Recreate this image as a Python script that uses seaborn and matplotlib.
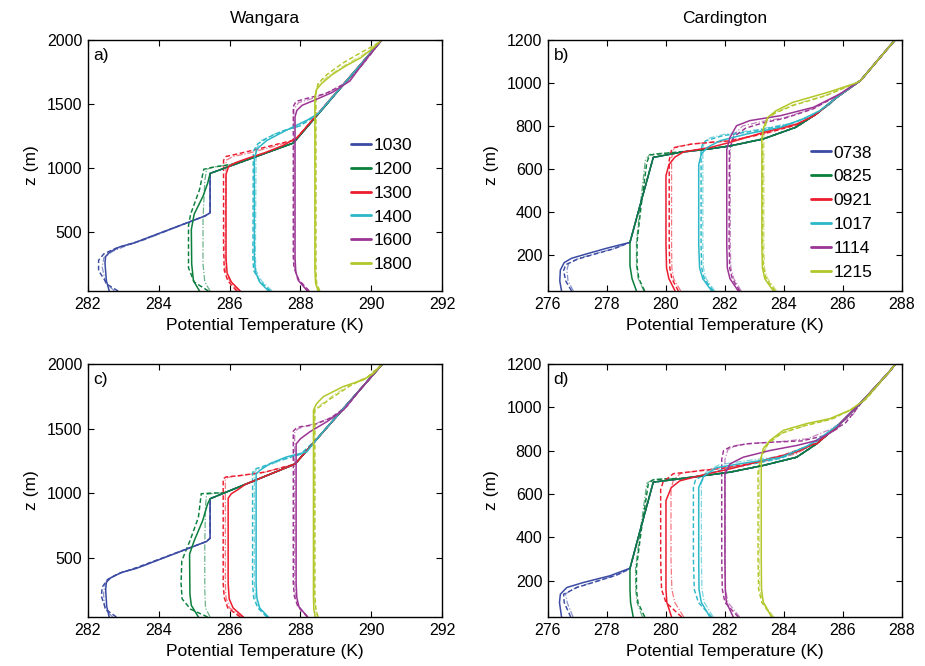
import matplotlib
matplotlib.use("Agg")
import matplotlib.pyplot as plt
import seaborn as sns

# ---------------- data ----------------
a_times = ["1030", "1200", "1300", "1400", "1600", "1800"]
b_times = ["0738", "0825", "0921", "1017", "1114", "1215"]
colors = ["#3B4BA3", "#0B7F3C", "#EC1C2E", "#2CB8C8", "#9B3594", "#B2C72A"]

# Panel a (Wangara)
a_common_T = [285.45, 287.8, 290.3]
a_common_Z = [958, 1195, 2000]
a_solid_T = [
    [282.6, 282.52, 282.48, 282.5, 282.62, 282.9, 283.3, 285.3, 285.45, 285.45],
    [285.15, 284.98, 284.93, 284.92, 285.0, 285.25, 285.38, 285.45],
    [286.3, 286.05, 285.93, 285.9, 285.9, 285.97, 286.15, 286.5, 287.0, 287.5, 287.9],
    [287.1, 286.85, 286.73, 286.7, 286.7, 286.78, 287.05, 287.6, 288.2, 288.5],
    [288.2, 287.95, 287.87, 287.85, 287.85, 287.9, 288.05, 288.4, 288.9, 289.4, 289.8],
    [288.5, 288.43, 288.41, 288.41, 288.45, 288.6, 288.9, 289.3, 289.7, 290.05],
]
a_solid_Z = [
    [40, 120, 260, 310, 345, 385, 415, 625, 650, 958],
    [40, 120, 250, 520, 640, 780, 880, 958],
    [40, 110, 180, 300, 950, 1010, 1040, 1075, 1120, 1175, 1235],
    [40, 110, 190, 300, 1080, 1150, 1215, 1295, 1375, 1425],
    [40, 120, 190, 300, 1400, 1450, 1490, 1530, 1590, 1680, 1830],
    [40, 100, 200, 1550, 1610, 1660, 1730, 1800, 1860, 1935],
]
a_dash_T = [
    [282.85, 282.55, 282.3, 282.3, 282.45, 282.8, 283.4, 285.3, 285.45, 285.45],
    [285.4, 285.0, 284.84, 284.84, 284.9, 285.15, 285.27, 285.5, 286.2],
    [286.2, 285.95, 285.85, 285.83, 285.83, 285.9, 286.3, 286.9, 287.4, 287.85],
    [287.15, 286.85, 286.68, 286.66, 286.67, 286.8, 287.1, 287.5, 288.0, 288.5],
    [288.25, 287.95, 287.82, 287.8, 287.8, 287.88, 288.2, 288.7, 289.2, 289.7],
    [288.55, 288.46, 288.44, 288.44, 288.5, 288.75, 289.2, 289.7, 290.1],
]
a_dash_Z = [
    [40, 90, 200, 280, 330, 375, 425, 625, 650, 958],
    [40, 110, 220, 550, 640, 830, 990, 1005, 1035],
    [40, 120, 200, 400, 1060, 1090, 1115, 1155, 1190, 1220],
    [40, 120, 200, 300, 1130, 1190, 1240, 1290, 1330, 1420],
    [40, 130, 220, 300, 1480, 1520, 1545, 1580, 1650, 1790],
    [40, 100, 200, 1580, 1660, 1730, 1820, 1900, 1960],
]
a_dot_T = [
    [282.75, 282.5, 282.4, 282.45, 282.7, 283.1, 283.6, 285.3, 285.45, 285.45],
    [285.45, 285.3, 285.25, 285.25, 285.3, 285.35, 285.6, 286.2],
    [286.25, 286.0, 285.88, 285.87, 285.9, 286.1, 286.6, 287.2, 287.85],
    [287.2, 286.9, 286.75, 286.73, 286.75, 286.9, 287.3, 287.9, 288.5],
    [288.2, 287.92, 287.84, 287.82, 287.82, 287.95, 288.3, 288.8, 289.3, 289.8],
    [288.52, 288.45, 288.43, 288.43, 288.5, 288.8, 289.3, 289.8],
]
a_dot_Z = [
    [40, 100, 230, 300, 350, 395, 440, 625, 650, 958],
    [40, 110, 250, 600, 900, 990, 1010, 1035],
    [40, 120, 200, 400, 1060, 1090, 1120, 1165, 1220],
    [40, 120, 200, 300, 1150, 1215, 1270, 1320, 1420],
    [40, 130, 220, 300, 1460, 1510, 1540, 1590, 1670, 1820],
    [40, 100, 200, 1580, 1650, 1720, 1810, 1890],
]

# Panel c (Wangara, second set)
c_common_T = [285.45, 287.85, 290.32]
c_common_Z = [956, 1225, 2000]
c_solid_T = [
    [282.6, 282.53, 282.5, 282.52, 282.65, 282.95, 283.35, 285.35, 285.45, 285.45],
    [285.12, 284.92, 284.88, 284.87, 285.0, 285.24, 285.38, 285.45],
    [286.39, 286.1, 285.99, 285.96, 285.96, 286.05, 286.2, 286.45],
    [287.09, 286.85, 286.77, 286.75, 286.75, 286.86, 287.14, 287.61, 288.18, 288.5],
    [288.2, 287.96, 287.9, 287.88, 287.88, 288.0, 288.27, 288.75, 289.22, 289.7],
    [288.42, 288.38, 288.37, 288.37, 288.45, 288.65, 289.21, 289.78, 290.06],
]
c_solid_Z = [
    [40, 120, 250, 310, 345, 385, 415, 625, 650, 956],
    [40, 130, 216, 527, 630, 786, 916, 956],
    [40, 110, 180, 300, 960, 995, 1020, 1068],
    [40, 110, 190, 300, 1150, 1176, 1228, 1280, 1319, 1430],
    [40, 120, 190, 300, 1380, 1420, 1475, 1553, 1644, 1805],
    [40, 100, 200, 1640, 1690, 1747, 1825, 1877, 1925],
]
c_dash_T = [
    [282.8, 282.5, 282.38, 282.4, 282.55, 282.85, 283.4, 285.35, 285.45, 285.45],
    [285.38, 284.9, 284.66, 284.63, 284.65, 284.88, 285.12, 285.2, 285.5, 285.85],
    [286.3, 285.95, 285.85, 285.82, 285.82, 285.9, 286.3, 287.0, 287.85],
    [287.05, 286.8, 286.68, 286.65, 286.65, 286.75, 286.9, 287.42, 288.0, 288.5],
    [288.2, 287.93, 287.83, 287.8, 287.8, 287.88, 288.0, 288.37, 288.84, 289.31, 289.7],
    [288.5, 288.44, 288.41, 288.41, 288.4, 288.5, 288.85, 289.4, 289.9],
]
c_dash_Z = [
    [40, 100, 200, 270, 330, 375, 425, 625, 650, 956],
    [40, 100, 180, 300, 475, 630, 812, 995, 1000, 1001],
    [40, 110, 190, 300, 1111, 1125, 1136, 1162, 1225],
    [40, 110, 190, 300, 1160, 1189, 1202, 1254, 1300, 1430],
    [40, 120, 200, 300, 1480, 1501, 1514, 1527, 1579, 1670, 1805],
    [40, 100, 200, 1620, 1650, 1660, 1730, 1830, 1900],
]
c_dot_T = [
    [282.7, 282.48, 282.44, 282.48, 282.62, 282.95, 283.5, 285.35, 285.45, 285.45],
    [285.45, 285.32, 285.3, 285.3, 285.32, 285.35, 285.6, 285.85],
    [286.35, 286.0, 285.9, 285.88, 285.88, 285.95, 286.35, 287.0, 287.85],
    [287.1, 286.85, 286.73, 286.7, 286.7, 286.8, 287.0, 287.5, 288.1, 288.5],
    [288.22, 287.95, 287.86, 287.84, 287.84, 287.92, 288.1, 288.5, 289.0, 289.7],
    [288.48, 288.42, 288.4, 288.4, 288.42, 288.55, 288.9, 289.4, 289.9],
]
c_dot_Z = [
    [40, 100, 220, 290, 340, 385, 430, 625, 650, 956],
    [40, 110, 250, 600, 900, 990, 1000, 1001],
    [40, 110, 190, 300, 1105, 1122, 1136, 1162, 1225],
    [40, 110, 190, 300, 1165, 1185, 1205, 1255, 1310, 1430],
    [40, 120, 200, 300, 1470, 1495, 1515, 1545, 1600, 1805],
    [40, 100, 200, 1620, 1650, 1680, 1750, 1840, 1900],
]

# Panel b (Cardington)
b_common_T = [279.57, 280.5, 281.5, 282.2, 283.3, 284.4, 285.1, 285.8, 286.6, 287.57, 287.77]
b_common_Z = [654, 678, 694, 708, 740, 794, 856, 934, 1012, 1169, 1200]
b_solid_T = [
    [276.46, 276.4, 276.42, 276.55, 276.8, 277.3, 278.0, 278.78, 279.1, 279.57],
    [279.0, 278.85, 278.78, 278.78, 279.1, 279.57],
    [280.31, 280.1, 280.02, 280.0, 280.0, 280.1, 280.3, 280.6, 281.5, 282.17, 283.3, 284.43, 285.0],
    [281.55, 281.25, 281.14, 281.11, 281.11, 281.2, 281.4, 281.84, 282.75, 283.9, 284.6, 285.2],
    [282.45, 282.17, 282.08, 282.06, 282.06, 282.17, 282.39, 282.84, 283.88, 285.0, 285.9],
    [283.64, 283.35, 283.27, 283.25, 283.25, 283.3, 283.45, 283.73, 284.3, 285.5, 286.45],
]
b_solid_Z = [
    [33, 80, 130, 165, 185, 205, 232, 259, 420, 654],
    [33, 90, 150, 259, 420, 654],
    [33, 90, 140, 250, 570, 620, 655, 680, 700, 724, 770, 809, 846],
    [33, 90, 140, 250, 620, 670, 700, 732, 763, 795, 830, 870],
    [33, 90, 140, 250, 690, 747, 801, 825, 848, 887, 949],
    [33, 90, 140, 250, 740, 790, 840, 871, 910, 957, 1000],
]
b_dash_T = [
    [276.8, 276.6, 276.53, 276.6, 276.98, 277.6, 278.2, 278.78, 279.1, 279.57],
    [279.28, 279.08, 279.02, 279.02, 279.15, 279.35, 279.45, 279.9, 280.5],
    [280.42, 280.2, 280.13, 280.11, 280.11, 280.18, 280.29, 280.86, 282.17, 283.3, 284.43, 285.0],
    [281.6, 281.3, 281.21, 281.19, 281.19, 281.25, 281.36, 281.93, 283.06, 284.2, 285.0, 285.5],
    [282.5, 282.25, 282.16, 282.14, 282.15, 282.3, 282.7, 283.3, 284.0, 285.0, 285.9],
    [283.7, 283.4, 283.3, 283.28, 283.28, 283.4, 283.7, 284.3, 285.4, 286.45],
]
b_dash_Z = [
    [33, 80, 127, 155, 180, 205, 228, 259, 420, 654],
    [33, 90, 150, 260, 420, 630, 665, 672, 680],
    [33, 90, 140, 250, 640, 685, 700, 716, 731, 763, 805, 846],
    [33, 90, 140, 250, 690, 720, 732, 755, 778, 809, 850, 895],
    [33, 90, 140, 250, 690, 750, 790, 815, 835, 880, 949],
    [33, 90, 140, 250, 760, 830, 860, 895, 940, 1000],
]
b_dot_T = [
    [276.86, 276.68, 276.64, 276.7, 277.05, 277.7, 278.3, 278.78, 279.1, 279.57],
    [279.25, 279.06, 279.0, 279.0, 279.12, 279.3, 279.45, 279.9, 280.5],
    [280.5, 280.26, 280.2, 280.19, 280.19, 280.25, 280.4, 281.0, 282.17, 283.3, 284.43, 285.0],
    [281.65, 281.36, 281.27, 281.25, 281.25, 281.32, 281.5, 282.0, 283.1, 284.2, 285.0, 285.5],
    [282.55, 282.3, 282.2, 282.18, 282.18, 282.3, 282.6, 283.2, 284.0, 285.0, 285.9],
    [283.75, 283.45, 283.34, 283.32, 283.32, 283.45, 283.75, 284.3, 285.4, 286.45],
]
b_dot_Z = [
    [33, 80, 130, 160, 185, 210, 232, 259, 420, 654],
    [33, 90, 150, 260, 420, 640, 668, 674, 680],
    [33, 90, 140, 250, 650, 690, 705, 718, 733, 765, 806, 846],
    [33, 90, 140, 250, 700, 728, 745, 762, 783, 812, 852, 895],
    [33, 90, 140, 250, 700, 760, 800, 820, 838, 882, 949],
    [33, 90, 140, 250, 770, 835, 865, 898, 942, 1000],
]

# Panel d (Cardington, second set)
d_common_T = [279.57, 280.47, 282.17, 283.3, 284.43, 285.11, 285.9, 286.69, 287.57, 287.78]
d_common_Z = [655, 670, 701, 732, 770, 832, 925, 1033, 1164, 1200]
d_solid_T = [
    [276.46, 276.39, 276.42, 276.64, 277.2, 278.1, 278.78, 279.1, 279.57],
    [278.89, 278.8, 278.78, 278.78, 279.1, 279.57],
    [280.19, 280.03, 280.0, 280.0, 280.0, 280.18, 280.47, 281.3, 282.17, 283.3, 284.43, 285.0],
    [281.49, 281.2, 281.12, 281.11, 281.11, 281.28, 281.72, 282.75, 283.88, 284.79, 285.24],
    [282.28, 282.05, 282.01, 282.0, 282.0, 282.17, 282.62, 283.53, 284.43, 285.11, 285.79],
    [283.58, 283.3, 283.24, 283.23, 283.23, 283.3, 283.53, 283.98, 284.77, 285.56, 286.24, 286.69],
]
d_solid_Z = [
    [33, 100, 138, 169, 192, 223, 258, 420, 655],
    [33, 100, 160, 258, 420, 655],
    [33, 100, 160, 300, 570, 630, 661, 690, 716, 755, 794, 830],
    [33, 100, 160, 300, 630, 683, 722, 745, 768, 822, 860],
    [33, 100, 160, 300, 694, 739, 770, 801, 824, 847, 900],
    [33, 100, 160, 300, 771, 810, 848, 894, 925, 948, 987, 1030],
]
d_dash_T = [
    [276.77, 276.55, 276.53, 276.98, 277.6, 278.3, 278.78, 279.1, 279.57],
    [279.28, 279.05, 279.0, 279.0, 279.15, 279.4, 279.55, 280.0, 280.5],
    [280.53, 280.0, 279.85, 279.82, 279.82, 279.9, 280.25, 281.0, 282.0, 283.0, 284.0, 285.0],
    [281.55, 281.1, 280.96, 280.93, 280.93, 281.0, 281.3, 281.9, 282.8, 283.9, 284.8, 285.3],
    [282.45, 282.0, 281.91, 281.89, 281.89, 281.95, 282.17, 282.75, 283.7, 284.6, 285.4, 286.1],
    [283.6, 283.25, 283.14, 283.12, 283.12, 283.2, 283.45, 283.9, 284.7, 285.6, 286.3, 286.8],
]
d_dash_Z = [
    [33, 100, 138, 169, 195, 225, 255, 420, 655],
    [33, 100, 160, 260, 420, 647, 665, 670, 672],
    [33, 100, 160, 300, 620, 655, 694, 705, 720, 745, 780, 830],
    [33, 100, 160, 300, 630, 665, 690, 712, 735, 765, 815, 860],
    [33, 100, 160, 300, 760, 800, 817, 832, 840, 845, 870, 930],
    [33, 100, 160, 300, 700, 760, 830, 880, 915, 945, 990, 1040],
]
d_dot_T = [
    [276.85, 276.65, 276.6, 277.0, 277.7, 278.4, 278.78, 279.1, 279.57],
    [279.2, 279.02, 278.97, 278.97, 279.12, 279.35, 279.55, 280.0, 280.5],
    [280.6, 280.3, 280.2, 280.17, 280.17, 280.25, 280.5, 281.2, 282.2, 283.3, 284.4, 285.0],
    [281.6, 281.3, 281.22, 281.2, 281.2, 281.35, 281.8, 282.8, 283.9, 284.8, 285.3],
    [282.5, 282.1, 282.02, 282.0, 282.0, 282.1, 282.4, 283.0, 283.9, 284.8, 285.6, 286.3],
    [283.65, 283.3, 283.18, 283.16, 283.16, 283.25, 283.5, 284.0, 284.8, 285.7, 286.4, 286.8],
]
d_dot_Z = [
    [33, 100, 140, 172, 200, 230, 256, 420, 655],
    [33, 100, 160, 260, 420, 650, 667, 671, 672],
    [33, 100, 160, 300, 620, 665, 695, 710, 725, 750, 785, 830],
    [33, 100, 160, 300, 650, 700, 735, 755, 775, 820, 860],
    [33, 100, 160, 300, 760, 805, 825, 835, 842, 855, 900, 960],
    [33, 100, 160, 300, 720, 780, 840, 885, 918, 950, 1000, 1040],
]

# ---------------- style ----------------
sns.set_style("ticks")
plt.rcParams.update({
    "font.family": ["Liberation Sans", "DejaVu Sans"],
    "xtick.direction": "in", "ytick.direction": "in",
    "xtick.top": True, "ytick.right": True,
    "xtick.major.size": 4, "ytick.major.size": 4,
    "xtick.major.width": 0.8, "ytick.major.width": 0.8,
    "axes.linewidth": 1.0, "axes.edgecolor": "black",
    "xtick.color": "black", "ytick.color": "black",
    "text.color": "black", "axes.labelcolor": "black",
})

fig = plt.figure(figsize=(9.25, 6.66), dpi=100)


def extend(T, Z, cT, cZ):
    T = list(T)
    Z = list(Z)
    for t, z in zip(cT, cZ):
        if t > T[-1] + 1e-6 and z > Z[-1] + 1e-6:
            T.append(t)
            Z.append(z)
    return T, Z


panels = [
    dict(rect=[0.0951, 0.5631, 0.3827, 0.3769], tag="a)", title="Wangara", times=a_times,
         solid=(a_solid_T, a_solid_Z), dash=(a_dash_T, a_dash_Z), dot=(a_dot_T, a_dot_Z),
         common=(a_common_T, a_common_Z), xlim=(282, 292), xt=[282, 284, 286, 288, 290, 292],
         ylim=(40, 2000), yt=[500, 1000, 1500, 2000], legend=True, anchor=(0.742, 0.61)),
    dict(rect=[0.5924, 0.5631, 0.3827, 0.3769], tag="b)", title="Cardington", times=b_times,
         solid=(b_solid_T, b_solid_Z), dash=(b_dash_T, b_dash_Z), dot=(b_dot_T, b_dot_Z),
         common=(b_common_T, b_common_Z), xlim=(276, 288), xt=[276, 278, 280, 282, 284, 286, 288],
         ylim=(33, 1200), yt=[200, 400, 600, 800, 1000, 1200], legend=True, anchor=(0.742, 0.58)),
    dict(rect=[0.0951, 0.0736, 0.3827, 0.3799], tag="c)", title=None, times=a_times,
         solid=(c_solid_T, c_solid_Z), dash=(c_dash_T, c_dash_Z), dot=(c_dot_T, c_dot_Z),
         common=(c_common_T, c_common_Z), xlim=(282, 292), xt=[282, 284, 286, 288, 290, 292],
         ylim=(40, 2000), yt=[500, 1000, 1500, 2000], legend=False),
    dict(rect=[0.5924, 0.0736, 0.3827, 0.3799], tag="d)", title=None, times=b_times,
         solid=(d_solid_T, d_solid_Z), dash=(d_dash_T, d_dash_Z), dot=(d_dot_T, d_dot_Z),
         common=(d_common_T, d_common_Z), xlim=(276, 288), xt=[276, 278, 280, 282, 284, 286, 288],
         ylim=(33, 1200), yt=[200, 400, 600, 800, 1000, 1200], legend=False),
]

styles = [
    ("dot", dict(linewidth=0.9, alpha=0.6, linestyle=(0, (5, 1.5, 1, 1.5)))),
    ("dash", dict(linewidth=1.05, alpha=1.0, linestyle=(0, (3.2, 1.8)))),
    ("solid", dict(linewidth=1.1, alpha=1.0, linestyle="-")),
]

for p in panels:
    ax = fig.add_axes(p["rect"])
    cT, cZ = p["common"]
    handles = []
    for key, kw in styles:
        TT, ZZ = p[key]
        for i in range(6):
            T, Z = extend(TT[i], ZZ[i], cT, cZ)
            sns.lineplot(x=T, y=Z, sort=False, estimator=None, color=colors[i],
                         ax=ax, legend=False, **kw)
            if key == "solid":
                handles.append(ax.lines[-1])
    ax.set_xlim(*p["xlim"])
    ax.set_ylim(*p["ylim"])
    ax.set_xticks(p["xt"])
    ax.set_yticks(p["yt"])
    ax.tick_params(labelsize=11.5, pad=4)
    ax.set_xlabel("Potential Temperature (K)", fontsize=12.5, labelpad=5)
    ax.set_ylabel("z (m)", fontsize=12.5, labelpad=6)
    ax.text(0.016, 0.94, p["tag"], transform=ax.transAxes, fontsize=12.5,
            ha="left", va="center")
    if p["title"]:
        ax.set_title(p["title"], fontsize=12.5, pad=12)
    if p["legend"]:
        leg = ax.legend(handles, p["times"], loc="upper left", bbox_to_anchor=p["anchor"],
                        frameon=False, fontsize=12.5, handlelength=1.15, handletextpad=0.15,
                        labelspacing=0.5, borderaxespad=0, borderpad=0)
        for h in leg.get_lines():
            h.set_linewidth(2.0)
            h.set_alpha(1.0)
            h.set_linestyle("-")

fig.savefig("out.png", dpi=100)
